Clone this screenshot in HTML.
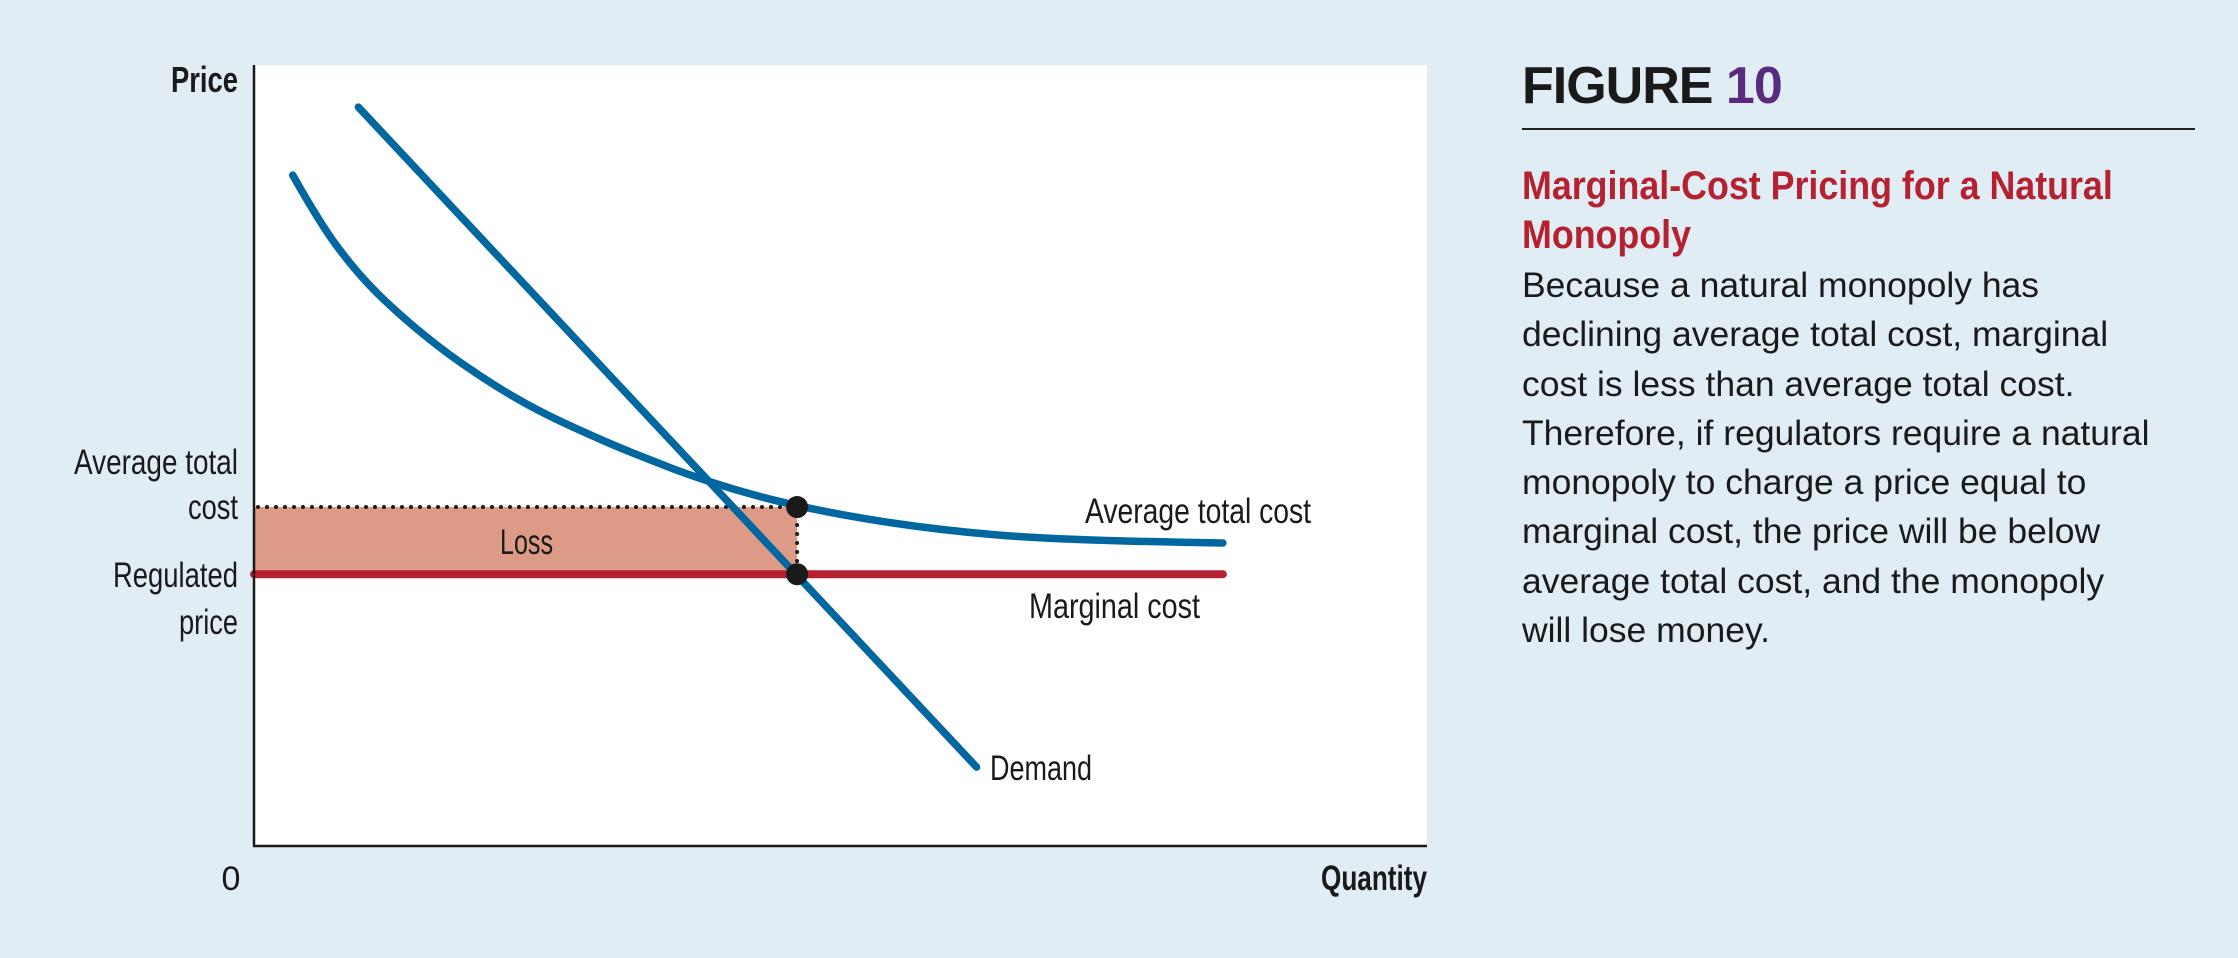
<!DOCTYPE html>
<html><head><meta charset="utf-8">
<style>
html,body{margin:0;padding:0;}
body{width:2238px;height:958px;background:#e1edf4;position:relative;overflow:hidden;font-family:"Liberation Sans",sans-serif;}
svg text{font-family:"Liberation Sans Narrow","Liberation Sans",sans-serif;fill:#1a1a1a;}
#panel{position:absolute;left:1522px;top:0;width:690px;}
.fig{position:absolute;left:0;top:56px;font-size:52px;font-weight:bold;color:#1a1a1a;white-space:nowrap;letter-spacing:-1px;}
.fig span{color:#5a2a7e;}
.rule{position:absolute;left:0;top:128px;width:673px;height:2px;background:#222;}
.ttl{position:absolute;left:0;top:162px;font-weight:bold;font-size:40px;line-height:49px;color:#b52130;white-space:nowrap;transform:scaleX(0.895);transform-origin:0 0;}
.body{position:absolute;left:0;top:261px;font-size:35.5px;line-height:49.3px;color:#1a1a1a;white-space:nowrap;}
</style></head><body>
<svg id="chart" width="1450" height="958" style="position:absolute;left:0;top:0">
<rect x="254" y="65" width="1173" height="781" fill="#fff"/>
<g id="marks"></g>
<line x1="254" y1="65" x2="254" y2="847" stroke="#1a1a1a" stroke-width="2.5"/>
<line x1="253" y1="846" x2="1427" y2="846" stroke="#1a1a1a" stroke-width="2.5"/>
<text x="171" y="92" font-size="36" font-weight="bold" textLength="67" lengthAdjust="spacingAndGlyphs">Price</text>
<text x="1321" y="890" font-size="35" font-weight="bold" textLength="106" lengthAdjust="spacingAndGlyphs">Quantity</text>
<text x="231" y="890" text-anchor="middle" font-size="34">0</text>
<text x="74" y="474" font-size="35" textLength="164" lengthAdjust="spacingAndGlyphs">Average total</text>
<text x="188" y="519" font-size="35" textLength="50" lengthAdjust="spacingAndGlyphs">cost</text>
<text x="113" y="587" font-size="35" textLength="125" lengthAdjust="spacingAndGlyphs">Regulated</text>
<text x="179" y="634" font-size="35" textLength="59" lengthAdjust="spacingAndGlyphs">price</text>
<text x="500" y="554" font-size="35" textLength="53" lengthAdjust="spacingAndGlyphs">Loss</text>
<text x="1085" y="523" font-size="35" textLength="226" lengthAdjust="spacingAndGlyphs">Average total cost</text>
<text x="1029" y="618" font-size="35" textLength="171" lengthAdjust="spacingAndGlyphs">Marginal cost</text>
<text x="990" y="780" font-size="35" textLength="102" lengthAdjust="spacingAndGlyphs">Demand</text>
</svg>
<div id="panel">
<div class="fig">FIGURE <span>10</span></div>
<div class="rule"></div>
<div class="ttl">Marginal-Cost Pricing for a Natural<br>Monopoly</div>
<div class="body">Because a natural monopoly has<br>declining average total cost, marginal<br>cost is less than average total cost.<br>Therefore, if regulators require a natural<br>monopoly to charge a price equal to<br>marginal cost, the price will be below<br>average total cost, and the monopoly<br>will lose money.</div>
</div>
<script>
const demandQ = [8.9, 61.6];
const demandP = [94.6, 10.1];
const atcQ = [3.3, 5.6, 8.4, 11.3, 15.6, 19.9, 24.1, 28.4, 32.1, 38.5, 46.3, 57.2, 69.1, 82.6];
const atcP = [85.9, 79.8, 74.1, 69.5, 64.0, 59.5, 55.8, 52.8, 50.4, 46.7, 43.4, 40.6, 39.1, 38.8];
const mcQ = [0, 82.6];
const mcP = [34.8, 34.8];
const regQ = [46.3];
const atcAtReg = [43.4];

const X0=254, X1=1427, Y0=846, Y1=65;
function sx(q){return X0+(q/100)*(X1-X0);}
function sy(p){return Y0-(p/100)*(Y0-Y1);}
const NS="http://www.w3.org/2000/svg";
const g=document.getElementById('marks');
function mk(tag,attrs){const e=document.createElementNS(NS,tag);for(const k in attrs)e.setAttribute(k,attrs[k]);return e;}

const loss=mk('rect',{x:sx(0),y:sy(atcAtReg[0]),width:sx(regQ[0])-sx(0),height:sy(mcP[0])-sy(atcAtReg[0]),fill:'#dc9a87'});


g.appendChild(loss);

const dh=mk('line',{x1:sx(0)+4,y1:sy(atcAtReg[0]),x2:sx(regQ[0]),y2:sy(atcAtReg[0]),stroke:'#1a1a1a','stroke-width':4,'stroke-dasharray':'0 9','stroke-linecap':'round'});


g.appendChild(dh);
const dv=mk('line',{x1:sx(regQ[0]),y1:sy(atcAtReg[0]),x2:sx(regQ[0]),y2:sy(mcP[0]),stroke:'#1a1a1a','stroke-width':4,'stroke-dasharray':'0 9','stroke-linecap':'round'});


g.appendChild(dv);

const mc=mk('line',{x1:sx(mcQ[0]),y1:sy(mcP[0]),x2:sx(mcQ[1]),y2:sy(mcP[1]),stroke:'#b52130','stroke-width':8,'stroke-linecap':'round'});


g.appendChild(mc);

// smooth quadratic B-spline through midpoints
const pts=atcQ.map((q,i)=>[sx(q),sy(atcP[i])]);
let d='M'+pts[0][0]+','+pts[0][1];
for(let i=1;i<pts.length-1;i++){
  const mx=(pts[i][0]+pts[i+1][0])/2, my=(pts[i][1]+pts[i+1][1])/2;
  const end=(i===pts.length-2)?pts[i+1]:[mx,my];
  d+=' Q'+pts[i][0]+','+pts[i][1]+' '+end[0]+','+end[1];
}
const atc=mk('path',{d:d,fill:'none',stroke:'#0067a0','stroke-width':7.5,'stroke-linecap':'round','stroke-linejoin':'round'});


g.appendChild(atc);

const dem=mk('line',{x1:sx(demandQ[0]),y1:sy(demandP[0]),x2:sx(demandQ[1]),y2:sy(demandP[1]),stroke:'#0067a0','stroke-width':7.5,'stroke-linecap':'round'});


g.appendChild(dem);

const c1=mk('circle',{cx:sx(regQ[0]),cy:sy(atcAtReg[0]),r:11,fill:'#1a1a1a'});


g.appendChild(c1);
const c2=mk('circle',{cx:sx(regQ[0]),cy:sy(mcP[0]),r:11,fill:'#1a1a1a'});


g.appendChild(c2);
</script>
</body></html>
